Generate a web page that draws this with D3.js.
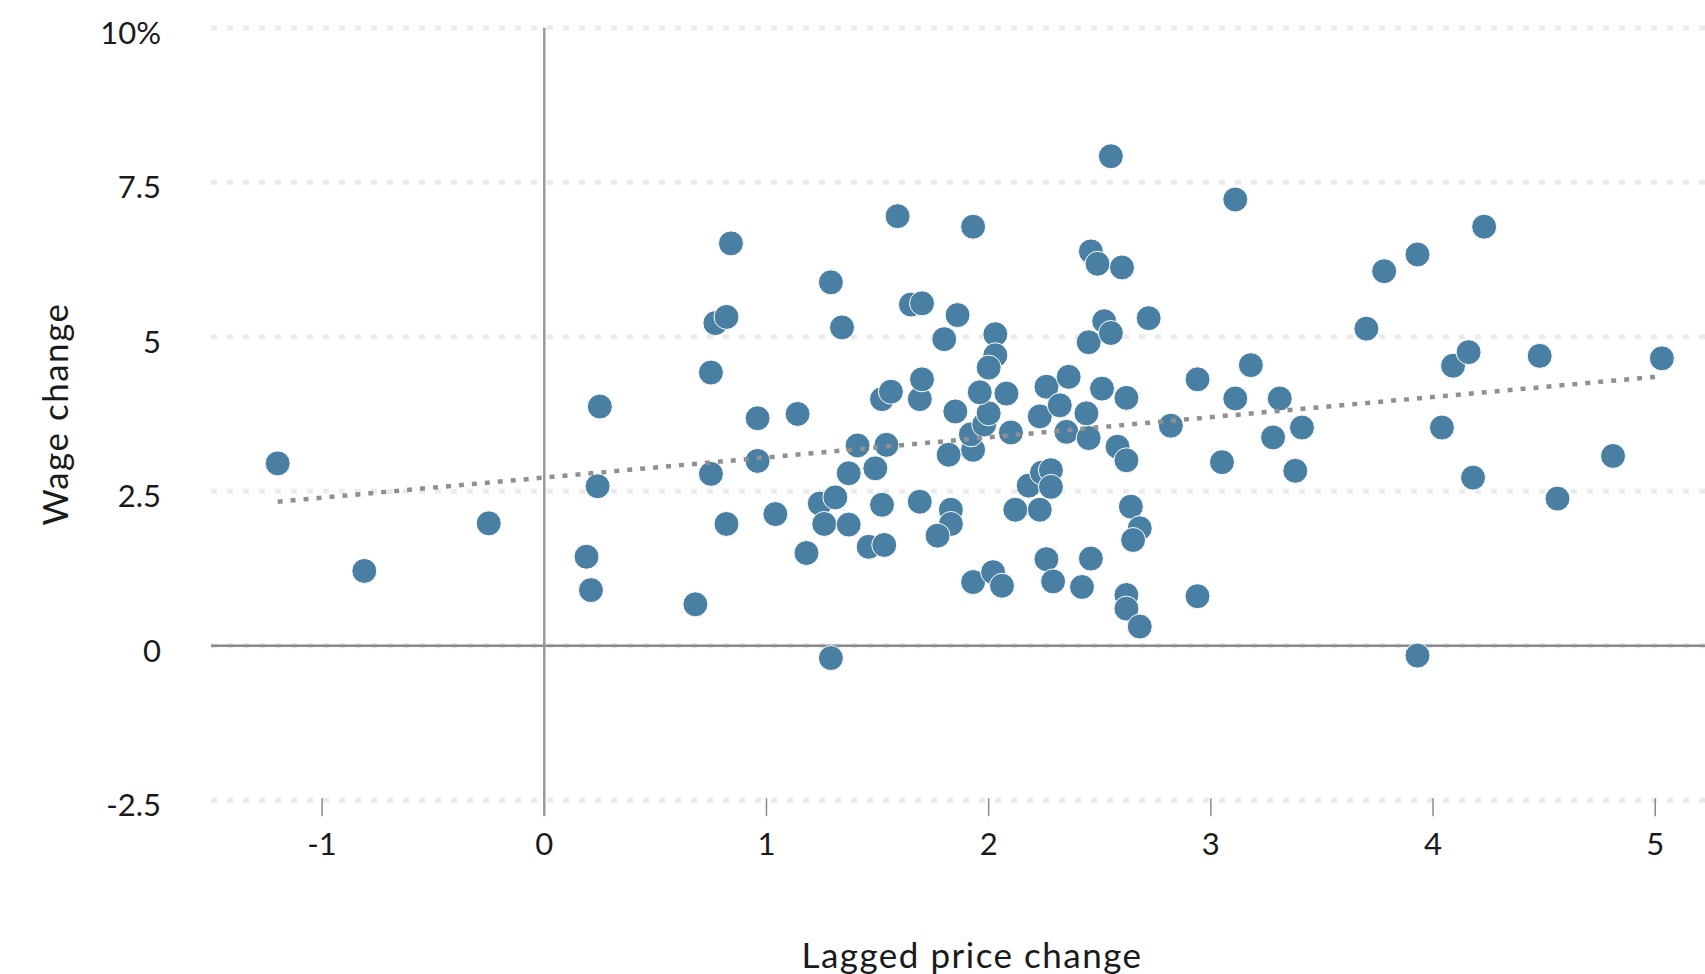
<!DOCTYPE html>
<html>
<head>
<meta charset="utf-8">
<script src="https://cdn.jsdelivr.net/npm/d3@7"></script>
<style>
  html, body { margin: 0; padding: 0; background: #fff; }
  svg { display: block; }
  text { font-family: Lato, "Open Sans", sans-serif; fill: #1a1a1a; }
</style>
</head>
<body>
<svg id="chart" width="1705" height="974"></svg>
<script>
// Lagged price change (x) and wage change (y), percent
const priceChange = [
  -1.20, -0.81, -0.25, 0.25, 0.24, 0.19, 0.21, 0.68, 0.75, 0.82,
  0.75, 0.77, 0.82, 0.84, 0.96, 0.96, 1.04, 1.14, 1.18, 1.24,
  1.31, 1.26, 1.37, 1.37, 1.41, 1.49, 1.54, 1.52, 1.46, 1.53,
  1.29, 1.29, 1.34, 1.59, 1.65, 1.70, 1.52, 1.56, 1.69, 1.70,
  1.69, 1.83, 1.83, 1.77, 1.80, 1.86, 1.85, 1.82, 1.93, 1.92,
  1.98, 2.00, 1.96, 2.08, 2.10, 1.93, 2.03, 2.03, 2.00, 1.93,
  2.02, 2.06, 2.18, 2.24, 2.28, 2.28, 2.12, 2.23, 2.26, 2.29,
  2.42, 2.46, 2.26, 2.36, 2.23, 2.32, 2.35, 2.44, 2.45, 2.51,
  2.62, 2.58, 2.62, 2.64, 2.68, 2.65, 2.62, 2.62, 2.68, 2.45,
  2.52, 2.55, 2.72, 2.46, 2.49, 2.60, 2.55, 2.82, 2.94, 2.94,
  3.05, 3.11, 3.18, 3.31, 3.28, 3.41, 3.38, 3.11, 3.70, 3.78,
  3.93, 4.23, 4.09, 4.16, 4.48, 5.03, 4.04, 4.18, 4.56, 4.81,
  3.93
];
const wageChange = [
  2.95, 1.21, 1.98, 3.87, 2.58, 1.44, 0.90, 0.67, 2.78, 1.97,
  4.42, 5.22, 5.32, 6.51, 3.68, 2.99, 2.13, 3.75, 1.50, 2.30,
  2.40, 1.97, 1.96, 2.79, 3.24, 2.87, 3.25, 2.28, 1.60, 1.63,
  -0.20, 5.88, 5.15, 6.95, 5.52, 5.54, 3.99, 4.11, 3.99, 4.31,
  2.33, 2.20, 1.97, 1.78, 4.96, 5.35, 3.79, 3.09, 3.17, 3.42,
  3.58, 3.76, 4.10, 4.08, 3.45, 6.78, 5.04, 4.70, 4.50, 1.03,
  1.19, 0.97, 2.59, 2.80, 2.84, 2.57, 2.20, 2.20, 1.40, 1.04,
  0.95, 1.41, 4.19, 4.35, 3.71, 3.89, 3.46, 3.76, 3.36, 4.16,
  4.01, 3.22, 3.00, 2.25, 1.90, 1.71, 0.82, 0.60, 0.31, 4.91,
  5.25, 5.06, 5.30, 6.38, 6.18, 6.12, 7.92, 3.56, 4.31, 0.80,
  2.97, 4.00, 4.54, 4.00, 3.37, 3.53, 2.83, 7.22, 5.13, 6.06,
  6.33, 6.78, 4.53, 4.75, 4.69, 4.65, 3.53, 2.72, 2.38, 3.07,
  -0.16
];
// Trend line endpoints
const trendX = [-1.20, 5.00];
const trendY = [2.33, 4.35];
// Tick values / labels
const xTicks = [-1, 0, 1, 2, 3, 4, 5];
const xTickLabels = ["-1", "0", "1", "2", "3", "4", "5"];
const yTicks = [-2.5, 0, 2.5, 5, 7.5, 10];
const yTickLabels = ["-2.5", "0", "2.5", "5", "7.5", "10%"];
const xTitle = "Lagged price change";
const yTitle = "Wage change";

const svg = d3.select("#chart");
const plotLeft = 211, plotRight = 1733, plotTop = 27.7, plotBottom = 800.2;

const x = d3.scaleLinear().domain([-1.5, 5.35]).range([plotLeft, plotRight]);
const y = d3.scaleLinear().domain([-2.5, 10]).range([plotBottom, plotTop]);

// Gridlines
svg.append("g").selectAll("line").data(yTicks).join("line")
  .attr("x1", plotLeft).attr("x2", plotRight)
  .attr("y1", d => y(d)).attr("y2", d => y(d))
  .attr("stroke", "#ebebeb").attr("stroke-width", 5)
  .attr("stroke-dasharray", "6 10");

// Zero line (horizontal)
svg.append("line")
  .attr("x1", plotLeft).attr("x2", plotRight)
  .attr("y1", y(0)).attr("y2", y(0))
  .attr("stroke", "#8a8a8a").attr("stroke-width", 2.5);

// X axis ticks
const tickTop = y(-2.5) - 2, tickBottom = y(-2.5) + 16;
svg.append("g").selectAll("line").data(xTicks.filter(d => d !== 0)).join("line")
  .attr("x1", d => x(d)).attr("x2", d => x(d))
  .attr("y1", tickTop).attr("y2", tickBottom)
  .attr("stroke", "#8a8a8a").attr("stroke-width", 1.5);

// Zero line (vertical)
svg.append("line")
  .attr("x1", x(0)).attr("x2", x(0))
  .attr("y1", y(10)).attr("y2", tickBottom)
  .attr("stroke", "#9a9a9a").attr("stroke-width", 2.5);

// X tick labels
svg.append("g").selectAll("text").data(xTicks).join("text")
  .attr("x", d => x(d)).attr("y", 843)
  .attr("text-anchor", "middle").attr("dominant-baseline", "central")
  .style("font-size", "31px")
  .text((d, i) => xTickLabels[i]);

// Y tick labels
svg.append("g").selectAll("text").data(yTicks).join("text")
  .attr("x", 161).attr("y", d => y(d) + 4)
  .attr("text-anchor", "end").attr("dominant-baseline", "central")
  .style("font-size", "31px")
  .text((d, i) => yTickLabels[i]);

// Points
const pts = priceChange.map((v, i) => ({x: v, y: wageChange[i]}));
svg.append("g").selectAll("circle").data(pts).join("circle")
  .attr("cx", d => x(d.x)).attr("cy", d => y(d.y))
  .attr("r", 12.5)
  .attr("fill", "#4a7fa4")
  .attr("stroke", "#ffffff").attr("stroke-width", 1);

// Trend line
svg.append("line")
  .attr("x1", x(trendX[0])).attr("y1", y(trendY[0]))
  .attr("x2", x(trendX[1])).attr("y2", y(trendY[1]))
  .attr("stroke", "#909090").attr("stroke-width", 4.5)
  .attr("stroke-dasharray", "5 8");

// Axis titles
svg.append("text")
  .attr("x", 972).attr("y", 954)
  .attr("text-anchor", "middle").attr("dominant-baseline", "central")
  .style("font-size", "35px").style("letter-spacing", "1.5px")
  .text(xTitle);

svg.append("text")
  .attr("transform", "translate(54,414) rotate(-90)")
  .attr("text-anchor", "middle").attr("dominant-baseline", "central")
  .style("font-size", "35px").style("letter-spacing", "1.5px")
  .text(yTitle);
</script>
</body>
</html>
